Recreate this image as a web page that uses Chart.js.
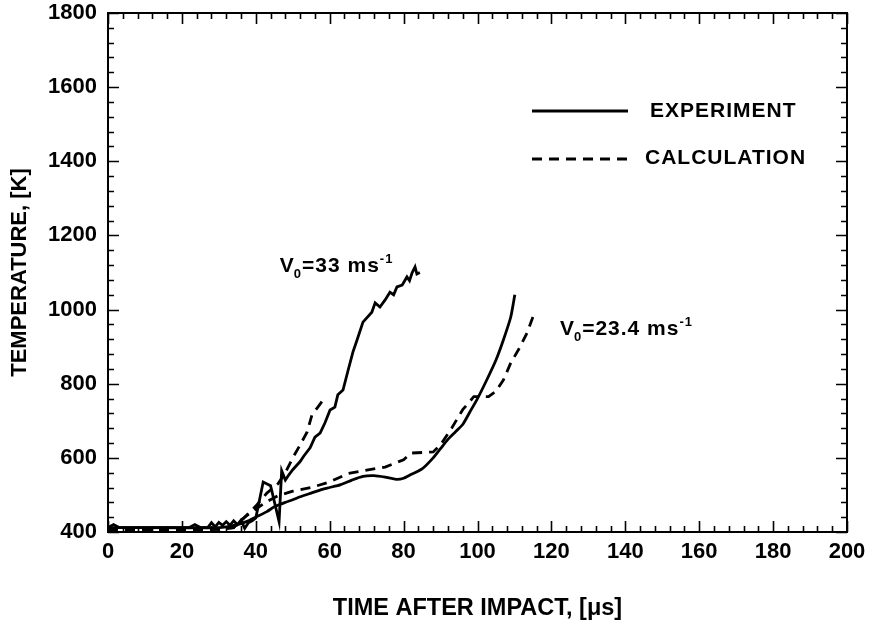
<!DOCTYPE html>
<html><head><meta charset="utf-8">
<script src="https://cdn.jsdelivr.net/npm/chart.js@4/dist/chart.umd.min.js"></script>
<style>html,body{margin:0;padding:0;background:#fff}#wrap{width:870px;height:621px}</style>
</head><body><div id="wrap"><canvas id="c" width="870" height="621"></canvas></div>
<script>
// Experiment, V0 = 33 m/s
const expA_t = [0, 1.5, 3, 22, 23.5, 25, 27, 28, 29, 30, 31, 32, 33, 34, 35, 36, 37, 38, 39, 40, 42, 44, 46.3, 47, 48, 49, 50, 52, 53, 54.7, 56, 57.4, 58.7, 60.1, 61.4, 62.2, 63.6, 65, 66.3, 67.4, 69, 71.4, 72.3, 73.6, 75, 76.3, 77.3, 78.2, 79.6, 80.9, 81.6, 82.3, 83.1, 83.6, 84.4];
const expA_T = [412, 420, 412, 412, 420, 412, 412, 425, 414, 426, 418, 428, 418, 430, 420, 432, 410, 425, 430, 438, 535, 525, 428, 565, 540, 555, 568, 590, 605, 627, 656, 667, 694, 729, 737, 770, 783, 837, 886, 918, 966, 993, 1018, 1007, 1026, 1047, 1040, 1061, 1066, 1088, 1078, 1099, 1115, 1096, 1100];
// Calculation, V0 = 33 m/s
const calcA_t = [0, 30, 34, 37, 40, 43, 46, 48, 50, 52, 53.9, 55.2, 56.8, 58.2];
const calcA_T = [405, 407, 412, 440, 470, 505, 530, 560, 600, 635, 670, 716, 737, 756];
// Experiment, V0 = 23.4 m/s
const expB_t = [0, 30, 35, 38, 40, 43, 45, 48, 50, 52, 55, 58, 60, 63, 66, 69, 72, 75, 78, 80, 82, 85, 88, 90, 92, 94, 96, 98, 100, 102.5, 105, 107, 109, 110.1];
const expB_T = [412, 412, 420, 430, 440, 455, 468, 480, 487, 495, 505, 515, 520, 528, 540, 550, 552, 548, 542, 545, 555, 570, 600, 625, 650, 670, 690, 725, 760, 810, 864, 918, 980, 1040];
// Calculation, V0 = 23.4 m/s
const calcB_t = [0, 30, 34, 37, 40, 43, 46, 50, 55, 60, 65, 70, 75, 80, 82, 88, 90, 93, 96, 99, 103, 105, 107, 109, 111.5, 113.4, 115];
const calcB_T = [405, 407, 412, 440, 462, 482, 498, 510, 520, 535, 558, 567, 575, 595, 613, 616, 635, 680, 730, 765, 765, 780, 810, 856, 899, 937, 980];

const legendLabels = ['EXPERIMENT', 'CALCULATION'];
const xTitle = 'TIME AFTER IMPACT, [μs]';
const yTitle = 'TEMPERATURE, [K]';
const annA = {x: 46.5, y: 1101, main: 'V', sub: '0', rest: '=33 ms', sup: '-1'};
const annB = {x: 122.3, y: 931, main: 'V', sub: '0', rest: '=23.4 ms', sup: '-1'};

const pts = (t, T) => t.map((v, i) => ({x: v, y: T[i]}));
const FONT = '"Liberation Sans", Arial, Helvetica, sans-serif';
const DASH = [10, 7];

const framePlugin = {
  id: 'frame',
  afterDraw(chart) {
    const ctx = chart.ctx, a = chart.chartArea;
    const xs = chart.scales.x, ys = chart.scales.y;
    ctx.save();
    ctx.strokeStyle = '#000';
    ctx.lineWidth = 2;
    ctx.strokeRect(a.left, a.top, a.right - a.left, a.bottom - a.top);
    ctx.lineWidth = 1.6;
    ctx.beginPath();
    for (let v = 0; v <= 200; v += 4) {
      const px = Math.round(xs.getPixelForValue(v)) + 0.5;
      const len = (v % 20 === 0) ? 11 : 6;
      ctx.moveTo(px, a.bottom); ctx.lineTo(px, a.bottom - len);
      ctx.moveTo(px, a.top); ctx.lineTo(px, a.top + len);
    }
    for (let v = 400; v <= 1800; v += 40) {
      const py = Math.round(ys.getPixelForValue(v)) + 0.5;
      const len = (v % 200 === 0) ? 11 : 6;
      ctx.moveTo(a.left, py); ctx.lineTo(a.left + len, py);
      ctx.moveTo(a.right, py); ctx.lineTo(a.right - len, py);
    }
    ctx.stroke();

    // legend
    ctx.lineWidth = 2.8;
    ctx.beginPath();
    ctx.moveTo(532, 111); ctx.lineTo(628, 111);
    ctx.stroke();
    ctx.setLineDash(DASH);
    ctx.beginPath();
    ctx.moveTo(532, 159); ctx.lineTo(628, 159);
    ctx.stroke();
    ctx.setLineDash([]);
    ctx.fillStyle = '#000';
    ctx.letterSpacing = '1px';
    ctx.font = 'bold 21px ' + FONT;
    ctx.textBaseline = 'alphabetic';
    ctx.textAlign = 'left';
    ctx.fillText(legendLabels[0], 650, 117);
    ctx.fillText(legendLabels[1], 645, 164);

    // annotations
    const drawAnn = (an) => {
      let x = xs.getPixelForValue(an.x), y = ys.getPixelForValue(an.y);
      ctx.font = 'bold 21px ' + FONT;
      ctx.fillText(an.main, x, y); x += ctx.measureText(an.main).width - 1;
      ctx.font = 'bold 13px ' + FONT;
      ctx.fillText(an.sub, x, y + 6); x += ctx.measureText(an.sub).width;
      ctx.font = 'bold 21px ' + FONT;
      ctx.fillText(an.rest, x, y); x += ctx.measureText(an.rest).width;
      ctx.font = 'bold 13px ' + FONT;
      ctx.fillText(an.sup, x, y - 9);
    };
    drawAnn(annA);
    drawAnn(annB);
    ctx.restore();
  }
};

new Chart(document.getElementById('c'), {
  type: 'line',
  data: {
    datasets: [
      {label: 'Experiment 33', data: pts(expA_t, expA_T), borderColor: '#000', borderWidth: 2.8, pointRadius: 0, tension: 0},
      {label: 'Calculation 33', data: pts(calcA_t, calcA_T), borderColor: '#000', borderWidth: 2.8, borderDash: DASH, pointRadius: 0, tension: 0},
      {label: 'Experiment 23.4', data: pts(expB_t, expB_T), borderColor: '#000', borderWidth: 2.8, pointRadius: 0, tension: 0.2},
      {label: 'Calculation 23.4', data: pts(calcB_t, calcB_T), borderColor: '#000', borderWidth: 2.8, borderDash: DASH, pointRadius: 0, tension: 0}
    ]
  },
  options: {
    responsive: false,
    animation: false,
    devicePixelRatio: 1,
    layout: {padding: 0},
    plugins: {legend: {display: false}, tooltip: {enabled: false}},
    scales: {
      x: {
        type: 'linear', min: 0, max: 200,
        ticks: {stepSize: 20, color: '#000', font: {family: FONT, size: 22, weight: 'bold'}, padding: 7, maxRotation: 0, callback: v => String(v)},
        grid: {display: false, drawTicks: false},
        border: {display: false},
        title: {display: true, text: xTitle, color: '#000', font: {family: FONT, size: 23.5, weight: 'bold', lineHeight: 1}, padding: {top: 1, bottom: 1}},
        afterFit(s) { s.height = 89; s.paddingLeft = 0; s.paddingRight = 23; }
      },
      y: {
        type: 'linear', min: 400, max: 1800,
        ticks: {stepSize: 200, color: '#000', font: {family: FONT, size: 22, weight: 'bold'}, padding: 11, callback: v => String(v)},
        grid: {display: false, drawTicks: false},
        border: {display: false},
        title: {display: true, text: yTitle, color: '#000', font: {family: FONT, size: 22, weight: 'bold', lineHeight: 1}, padding: {top: 9, bottom: 9}},
        afterFit(s) { s.width = 108; s.paddingTop = 13; s.paddingBottom = 0; }
      }
    }
  },
  plugins: [framePlugin]
});
</script>
</body></html>
